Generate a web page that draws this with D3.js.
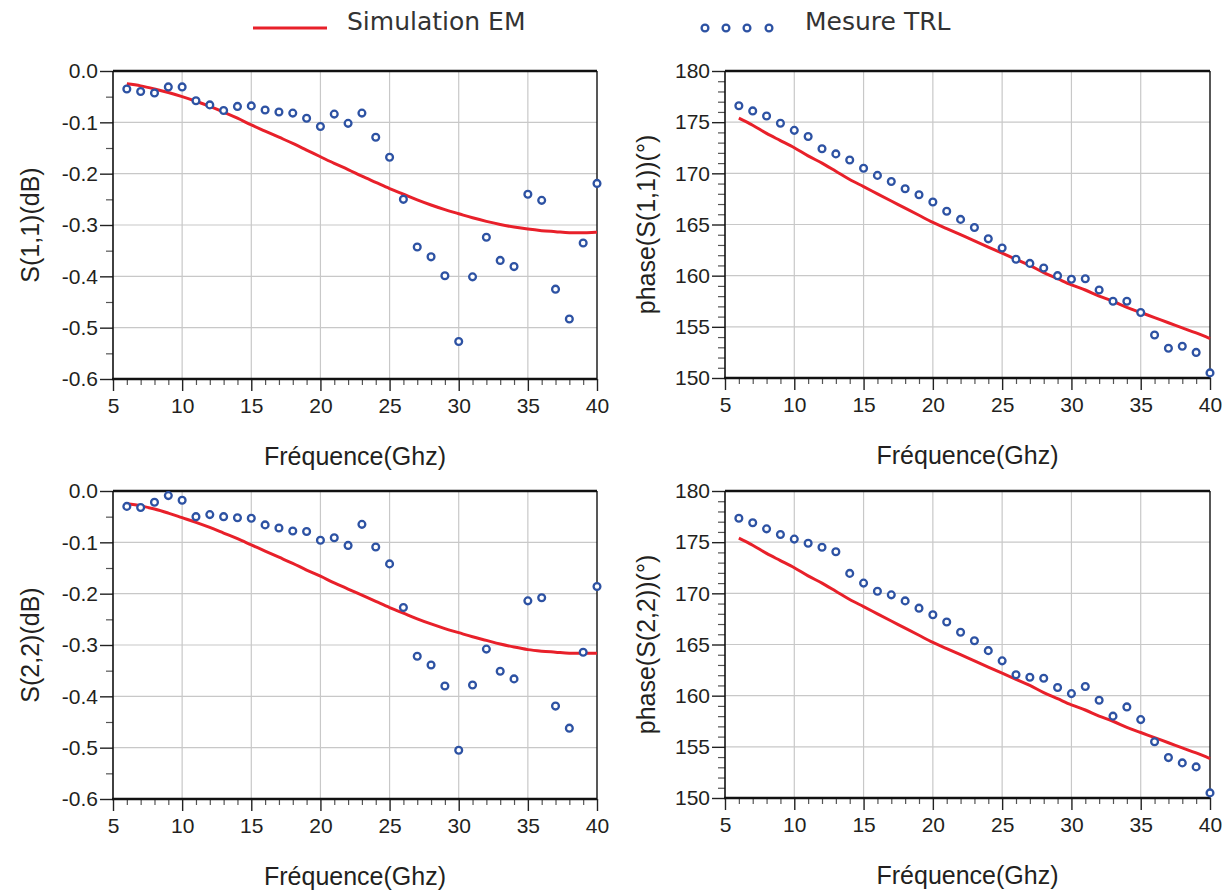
<!DOCTYPE html>
<html><head><meta charset="utf-8">
<script src="https://cdn.jsdelivr.net/npm/d3@7"></script>
<style>body{margin:0;background:#fff}svg{display:block}</style>
</head><body>
<script>
const freq = d3.range(6, 41);
const s11dB_meas = [-0.035,-0.040,-0.043,-0.031,-0.031,-0.058,-0.066,-0.077,-0.069,-0.068,-0.076,-0.080,-0.082,-0.092,-0.108,-0.084,-0.102,-0.082,-0.129,-0.168,-0.250,-0.343,-0.362,-0.399,-0.527,-0.401,-0.324,-0.369,-0.381,-0.240,-0.252,-0.425,-0.483,-0.335,-0.219];
const s11dB_sim = [-0.025,-0.029,-0.035,-0.042,-0.050,-0.059,-0.069,-0.080,-0.092,-0.105,-0.117,-0.129,-0.141,-0.154,-0.167,-0.180,-0.192,-0.205,-0.217,-0.229,-0.240,-0.251,-0.261,-0.270,-0.278,-0.286,-0.293,-0.299,-0.304,-0.308,-0.311,-0.313,-0.315,-0.315,-0.314];
const s22dB_meas = [-0.030,-0.032,-0.022,-0.009,-0.018,-0.050,-0.046,-0.050,-0.052,-0.053,-0.066,-0.072,-0.078,-0.079,-0.096,-0.091,-0.106,-0.065,-0.109,-0.142,-0.227,-0.322,-0.339,-0.380,-0.505,-0.378,-0.308,-0.351,-0.366,-0.214,-0.208,-0.419,-0.462,-0.314,-0.186];
const s22dB_sim = [-0.025,-0.029,-0.035,-0.043,-0.052,-0.061,-0.071,-0.082,-0.093,-0.105,-0.117,-0.129,-0.141,-0.154,-0.166,-0.179,-0.191,-0.203,-0.215,-0.227,-0.238,-0.249,-0.259,-0.268,-0.276,-0.284,-0.291,-0.298,-0.304,-0.309,-0.312,-0.314,-0.316,-0.316,-0.316];
const s11ph_meas = [176.6,176.1,175.6,174.9,174.2,173.6,172.4,171.9,171.3,170.5,169.8,169.2,168.5,167.9,167.2,166.3,165.5,164.7,163.6,162.7,161.6,161.2,160.75,160.0,159.65,159.7,158.6,157.5,157.5,156.4,154.2,152.9,153.1,152.5,150.5];
const s11ph_sim = [175.4,174.7,173.9,173.2,172.5,171.7,171.0,170.2,169.4,168.7,168.0,167.3,166.6,165.9,165.2,164.6,164.0,163.4,162.8,162.2,161.6,161.0,160.3,159.7,159.1,158.6,158.0,157.5,156.9,156.4,155.9,155.4,154.9,154.4,153.85];
const s22ph_meas = [177.34,176.9,176.3,175.75,175.3,174.9,174.5,174.06,171.95,171.0,170.2,169.85,169.26,168.55,167.9,167.2,166.2,165.36,164.4,163.4,162.05,161.8,161.7,160.8,160.2,160.9,159.55,158.0,158.9,157.66,155.5,153.95,153.43,153.04,150.5];
const s22ph_sim = [175.4,174.7,173.9,173.2,172.5,171.7,171.0,170.2,169.4,168.7,168.0,167.3,166.6,165.9,165.2,164.6,164.0,163.4,162.8,162.2,161.6,161.0,160.3,159.7,159.1,158.6,158.0,157.5,156.9,156.4,155.9,155.4,154.9,154.4,153.85];
const xTicks = [5,10,15,20,25,30,35,40];
const dBTicks = [0.0,-0.1,-0.2,-0.3,-0.4,-0.5,-0.6];
const phTicks = [180,175,170,165,160,155,150];
const legendLabels = ["Simulation EM","Mesure TRL"];
const xTitle = "Fréquence(Ghz)";

const W=1232,H=890;
const svg=d3.select("body").append("svg").attr("width",W).attr("height",H);
const RED="#e8202a", BLUE="#2d52a3", GRID="#c8c8c8", TXT="#231f20";
const FONT="'Liberation Sans', Arial, sans-serif";

const panels=[
 {x0:113,x1:597,y0:71,y1:379,dom:[-0.6,0],ticks:dBTicks,minor:d3.range(-0.55,0,0.1),fmt:d=>d3.format(".1f")(d).replace("\u2212","-"),meas:s11dB_meas,sim:s11dB_sim,ylab:"S(1,1)(dB)",ylx:30},
 {x0:725,x1:1210,y0:71,y1:378,dom:[150,180],ticks:phTicks,minor:d3.range(151,180,1).filter(v=>v%5!==0),fmt:d3.format("d"),meas:s11ph_meas,sim:s11ph_sim,ylab:"phase(S(1,1))(°)",ylx:646},
 {x0:113,x1:597,y0:491,y1:799,dom:[-0.6,0],ticks:dBTicks,minor:d3.range(-0.55,0,0.1),fmt:d=>d3.format(".1f")(d).replace("\u2212","-"),meas:s22dB_meas,sim:s22dB_sim,ylab:"S(2,2)(dB)",ylx:30},
 {x0:725,x1:1210,y0:491,y1:798,dom:[150,180],ticks:phTicks,minor:d3.range(151,180,1).filter(v=>v%5!==0),fmt:d3.format("d"),meas:s22ph_meas,sim:s22ph_sim,ylab:"phase(S(2,2))(°)",ylx:646}
];

panels.forEach(p=>{
  const x=d3.scaleLinear().domain([5,40]).range([p.x0,p.x1]);
  const y=d3.scaleLinear().domain(p.dom).range([p.y1,p.y0]);
  const g=svg.append("g");
  // grid
  g.selectAll(".vg").data(xTicks.slice(1,-1)).join("line")
    .attr("x1",d=>x(d)).attr("x2",d=>x(d)).attr("y1",p.y0).attr("y2",p.y1)
    .attr("stroke",GRID).attr("stroke-width",1.2);
  g.selectAll(".hg").data(p.ticks.slice(1,-1)).join("line")
    .attr("y1",d=>y(d)).attr("y2",d=>y(d)).attr("x1",p.x0).attr("x2",p.x1)
    .attr("stroke",GRID).attr("stroke-width",1.2);
  // x axis minor ticks
  const xm=g.append("g").attr("transform",`translate(0,${p.y1})`)
    .call(d3.axisBottom(x).tickValues(d3.range(6,40,1).filter(v=>v%5!==0)).tickSize(6).tickFormat(""));
  xm.select(".domain").remove();
  xm.selectAll("line").attr("stroke","#555").attr("stroke-width",1.2);
  const xa=g.append("g").attr("transform",`translate(0,${p.y1})`)
    .call(d3.axisBottom(x).tickValues(xTicks).tickSize(12));
  xa.select(".domain").remove();
  xa.selectAll("line").attr("stroke","#222").attr("stroke-width",1.4);
  xa.selectAll("text").attr("font-family",FONT).attr("font-size",21).attr("fill",TXT).attr("y",19).attr("dy","0.71em");
  // y axis
  const ya=g.append("g").attr("transform",`translate(${p.x0},0)`)
    .call(d3.axisLeft(y).tickValues(p.minor).tickSize(7).tickFormat(""));
  ya.select(".domain").remove();
  ya.selectAll("line").attr("stroke","#555").attr("stroke-width",1.2);
  const yb=g.append("g").attr("transform",`translate(${p.x0},0)`)
    .call(d3.axisLeft(y).tickValues(p.ticks).tickSize(13).tickPadding(2).tickFormat(p.fmt));
  yb.select(".domain").remove();
  yb.selectAll("line").attr("stroke","#222").attr("stroke-width",1.4);
  yb.selectAll("text").attr("font-family",FONT).attr("font-size",21).attr("fill",TXT);
  // frame
  g.append("line").attr("x1",p.x0).attr("x2",p.x1).attr("y1",p.y0).attr("y2",p.y0).attr("stroke","#111").attr("stroke-width",2.5);
  g.append("line").attr("x1",p.x0-1).attr("x2",p.x1).attr("y1",p.y1).attr("y2",p.y1).attr("stroke","#111").attr("stroke-width",2.6);
  g.append("line").attr("x1",p.x0).attr("x2",p.x0).attr("y1",p.y0).attr("y2",p.y1).attr("stroke","#111").attr("stroke-width",1.6);
  g.append("line").attr("x1",p.x1).attr("x2",p.x1).attr("y1",p.y0).attr("y2",p.y1).attr("stroke","#111").attr("stroke-width",1.4);
  // sim line
  g.append("path").datum(freq.map((f,i)=>[f,p.sim[i]]))
    .attr("d",d3.line().x(d=>x(d[0])).y(d=>y(d[1])).curve(d3.curveCatmullRom))
    .attr("fill","none").attr("stroke",RED).attr("stroke-width",3);
  // measured
  g.selectAll(".m").data(freq.map((f,i)=>[f,p.meas[i]])).join("circle")
    .attr("cx",d=>x(d[0])).attr("cy",d=>y(d[1])).attr("r",3.4)
    .attr("fill","#fff").attr("stroke",BLUE).attr("stroke-width",2.3);
  // labels
  g.append("text").attr("transform",`translate(${p.ylx},${(p.y0+p.y1)/2}) rotate(-90)`)
    .attr("text-anchor","middle").attr("dominant-baseline","central")
    .attr("font-family",FONT).attr("font-size",25).attr("fill",TXT).text(p.ylab);
  g.append("text").attr("x",(p.x0+p.x1)/2).attr("y",p.y1+86)
    .attr("text-anchor","middle").attr("font-family",FONT).attr("font-size",25).attr("fill",TXT).text(xTitle);
});

// legend
const LF="'DejaVu Sans', Verdana, sans-serif";
svg.append("line").attr("x1",253).attr("x2",327).attr("y1",28).attr("y2",28).attr("stroke",RED).attr("stroke-width",3);
svg.append("text").attr("x",347).attr("y",30).attr("font-family",LF).attr("font-size",25).attr("fill","#333").text(legendLabels[0]);
svg.selectAll(".lm").data([705,726,747,769]).join("circle").attr("cx",d=>d).attr("cy",28).attr("r",3.4)
  .attr("fill","#fff").attr("stroke",BLUE).attr("stroke-width",2.3);
svg.append("text").attr("x",805).attr("y",30).attr("font-family",LF).attr("font-size",25).attr("fill","#333").text(legendLabels[1]);
</script>
</body></html>
